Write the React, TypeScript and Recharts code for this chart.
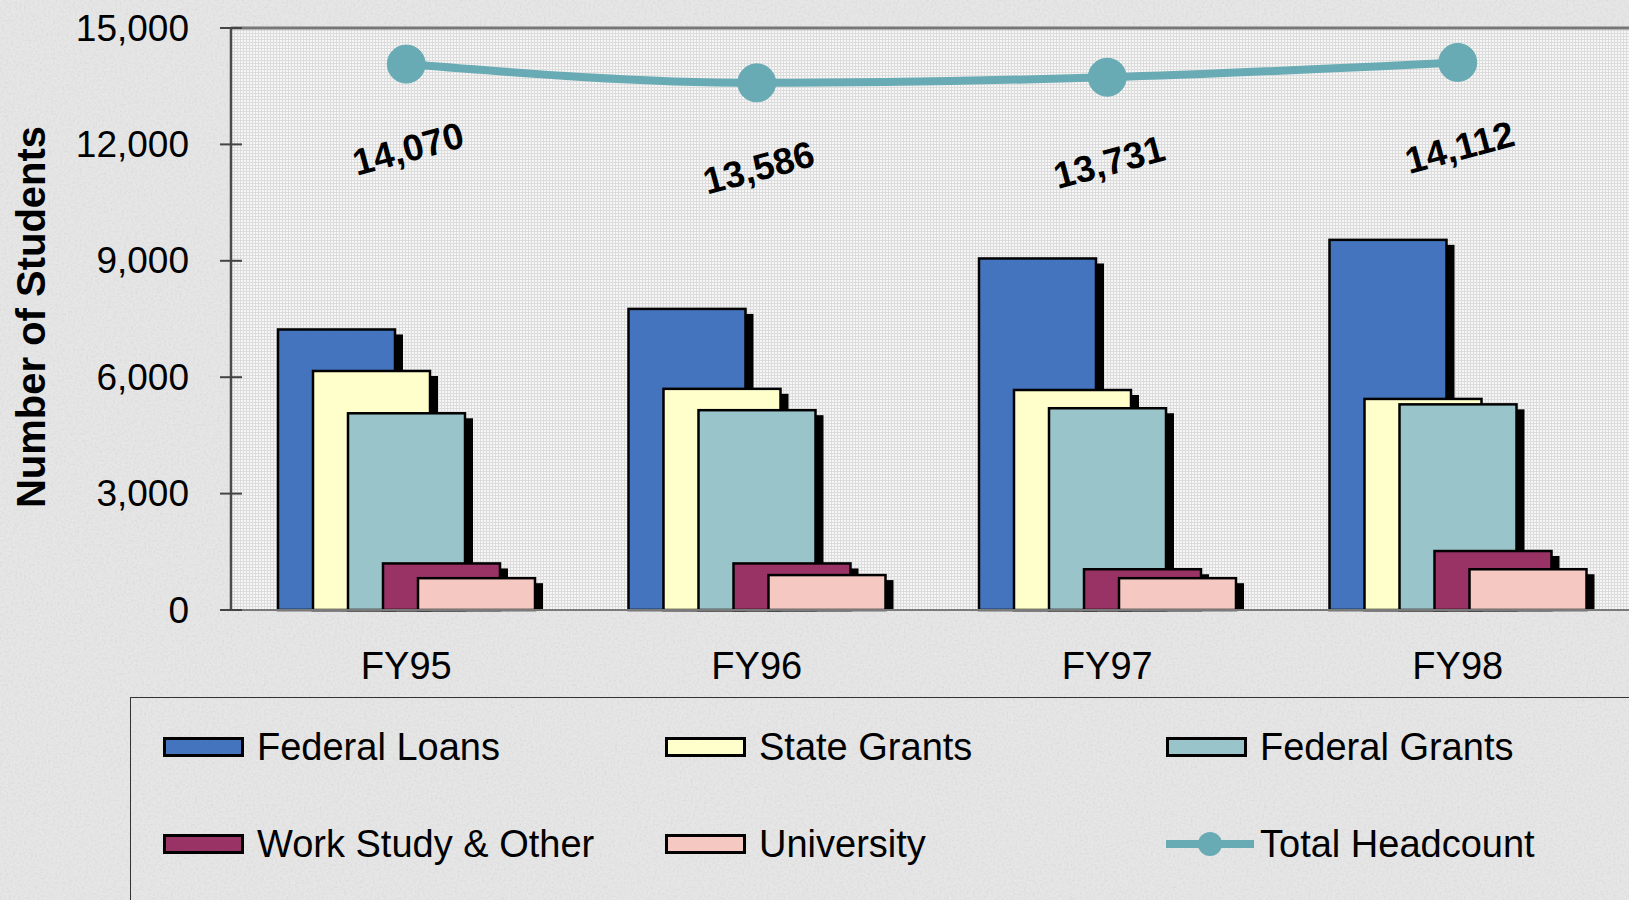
import React from 'react';
import {
  ComposedChart,
  Bar,
  Line,
  XAxis,
  YAxis,
  CartesianGrid,
  ReferenceLine,
  Legend,
  LabelList,
  Label,
} from 'recharts';

// Fiscal years on the category axis
const years = ['FY95', 'FY96', 'FY97', 'FY98'];

// Students receiving each kind of aid
const federalLoans = [7230, 7760, 9060, 9540];
const stateGrants = [6160, 5700, 5670, 5440];
const federalGrants = [5070, 5150, 5200, 5300];
const workStudy = [1200, 1200, 1050, 1520];
const university = [820, 900, 820, 1050];
const totalHeadcount = [14070, 13586, 13731, 14112];

const yTicks = [0, 3000, 6000, 9000, 12000, 15000];

const data = years.map((year, i) => ({
  year,
  federalLoans: federalLoans[i],
  stateGrants: stateGrants[i],
  federalGrants: federalGrants[i],
  workStudy: workStudy[i],
  university: university[i],
  total: totalHeadcount[i],
}));

const FONT = '"Liberation Sans", Arial, sans-serif';

// series order = drawing order (later bars sit on top of earlier ones)
const barSeries = [
  { key: 'federalLoans', name: 'Federal Loans', color: '#4374bd' },
  { key: 'stateGrants', name: 'State Grants', color: '#ffffcc' },
  { key: 'federalGrants', name: 'Federal Grants', color: '#99c4ca' },
  { key: 'workStudy', name: 'Work Study & Other', color: '#993366' },
  { key: 'university', name: 'University', color: '#f5c8c2' },
];
const LINE_COLOR = '#68abb4';

const fmt = (v: number) => Number(v).toLocaleString('en-US');

// bar with a black drop shadow to the lower right
const ShadowBar = (props: any) => {
  const { x, y, width, height, fill } = props;
  if (!height || height <= 0) return null;
  return (
    <g>
      <rect x={x + 8} y={y + 5} width={width} height={Math.max(height - 5, 0)} fill="#000" />
      <rect x={x} y={y} width={width} height={height} fill={fill} stroke="#000" strokeWidth={2.5} />
    </g>
  );
};

const YTick = (props: any) => {
  const { x, y, payload } = props;
  return (
    <g>
      <line x1={x + 31} x2={x + 53} y1={y} y2={y} stroke="#444" strokeWidth={2} />
      <text x={x} y={y} textAnchor="end" dominantBaseline="central" fontSize={37} fontFamily={FONT} fill="#000">
        {fmt(payload.value)}
      </text>
    </g>
  );
};

const HeadcountLabel = (props: any) => {
  const { x, y, value } = props;
  const lx = x + 2;
  const ly = y + 85;
  return (
    <text
      x={lx}
      y={ly}
      transform={`rotate(-15, ${lx}, ${ly})`}
      textAnchor="middle"
      dominantBaseline="central"
      fontSize={37}
      fontWeight="bold"
      fontFamily={FONT}
      fill="#000"
    >
      {fmt(value)}
    </text>
  );
};

const legendRows = [
  ['federalLoans', 'stateGrants', 'federalGrants'],
  ['workStudy', 'university', 'total'],
];
const colLeft = [32, 534, 1035];
const rowMid = [49, 146];

const ChartLegend = () => (
  <div
    style={{
      position: 'relative',
      width: 1600,
      height: 260,
      border: '1.5px solid #333',
      boxSizing: 'border-box',
      fontFamily: FONT,
      fontSize: 38,
      color: '#000',
    }}
  >
    {legendRows.map((row, r) =>
      row.map((key, c) => {
        const bar = barSeries.find((s) => s.key === key);
        const label = bar ? bar.name : 'Total Headcount';
        return (
          <div
            key={key}
            style={{
              position: 'absolute',
              left: colLeft[c],
              top: rowMid[r] - 25,
              height: 50,
              display: 'flex',
              alignItems: 'center',
              whiteSpace: 'nowrap',
            }}
          >
            {bar ? (
              <div
                style={{
                  width: 81,
                  height: 20,
                  background: bar.color,
                  border: '3px solid #000',
                  boxSizing: 'border-box',
                }}
              />
            ) : (
              <svg width={88} height={30}>
                <line x1={0} x2={88} y1={15} y2={15} stroke={LINE_COLOR} strokeWidth={8} />
                <circle cx={44} cy={15} r={12} fill={LINE_COLOR} />
              </svg>
            )}
            <span style={{ marginLeft: bar ? 13 : 6 }}>{label}</span>
          </div>
        );
      })
    )}
  </div>
);

export default function App() {
  return (
    <div
      style={{
        position: 'absolute',
        left: 0,
        top: 0,
        width: 1629,
        height: 900,
        overflow: 'hidden',
        background: '#e3e3e3',
      }}
    >
      {/* granite-like paper texture behind everything */}
      <svg width={1629} height={900} style={{ position: 'absolute', left: 0, top: 0 }}>
        <filter id="granite">
          <feTurbulence type="fractalNoise" baseFrequency="0.45" numOctaves="3" seed="4" />
          <feColorMatrix type="matrix" values="0 0 0 0 0.55  0 0 0 0 0.55  0 0 0 0 0.55  0 0 0 1.1 -0.45" />
        </filter>
        <rect width={1629} height={900} fill="#e6e6e6" />
        <rect width={1629} height={900} filter="url(#granite)" opacity={0.6} />
      </svg>
      <div style={{ position: 'absolute', left: 0, top: 0 }}>
        <ComposedChart
          width={1660}
          height={900}
          data={data}
          margin={{ top: 28, right: 27, left: 0, bottom: 0 }}
          barSize={117}
          barGap={-82}
          barCategoryGap={0}
        >
          <defs>
            <pattern id="plotGrid" width="3" height="3" patternUnits="userSpaceOnUse">
              <rect width="3" height="3" fill="#f6f6f6" />
              <path d="M0 0.5 H3 M0.5 0 V3" stroke="#dcdcdc" strokeWidth="1" />
            </pattern>
          </defs>
          <CartesianGrid horizontal={false} vertical={false} fill="url(#plotGrid)" />
          <XAxis
            dataKey="year"
            height={290}
            tickSize={0}
            tickMargin={42}
            tickLine={false}
            axisLine={{ stroke: '#7a7a7a', strokeWidth: 2 }}
            tick={{ fontSize: 38, fill: '#000', fontFamily: FONT }}
          />
          <YAxis
            width={231}
            domain={[0, 15000]}
            ticks={yTicks}
            interval={0}
            tickSize={11}
            tickMargin={31}
            tickLine={false}
            axisLine={{ stroke: '#4a4a4a', strokeWidth: 2.5 }}
            tick={<YTick />}
          >
            <Label
              content={(p: any) => {
                const vb = p.viewBox || { y: 28, height: 582 };
                const cy = vb.y + vb.height / 2 - 2;
                return (
                  <text
                    transform={`translate(31, ${cy}) rotate(-90)`}
                    textAnchor="middle"
                    dominantBaseline="central"
                    fontSize={40}
                    fontWeight="bold"
                    fontFamily={FONT}
                    fill="#000"
                  >
                    Number of Students
                  </text>
                );
              }}
            />
          </YAxis>
          <ReferenceLine y={15000} stroke="#777" strokeWidth={3} />
          {barSeries.map((s) => (
            <Bar
              key={s.key}
              dataKey={s.key}
              name={s.name}
              fill={s.color}
              shape={<ShadowBar />}
              isAnimationActive={false}
            />
          ))}
          <Line
            type="monotone"
            dataKey="total"
            name="Total Headcount"
            stroke={LINE_COLOR}
            strokeWidth={8}
            dot={{ r: 19, fill: LINE_COLOR, stroke: LINE_COLOR, strokeWidth: 1 }}
            activeDot={false}
            isAnimationActive={false}
          >
            <LabelList dataKey="total" content={<HeadcountLabel />} />
          </Line>
          <Legend
            layout="horizontal"
            verticalAlign="middle"
            align="center"
            wrapperStyle={{ left: 130, top: 697, width: 1600, height: 260 }}
            content={() => <ChartLegend />}
          />
        </ComposedChart>
      </div>
    </div>
  );
}
